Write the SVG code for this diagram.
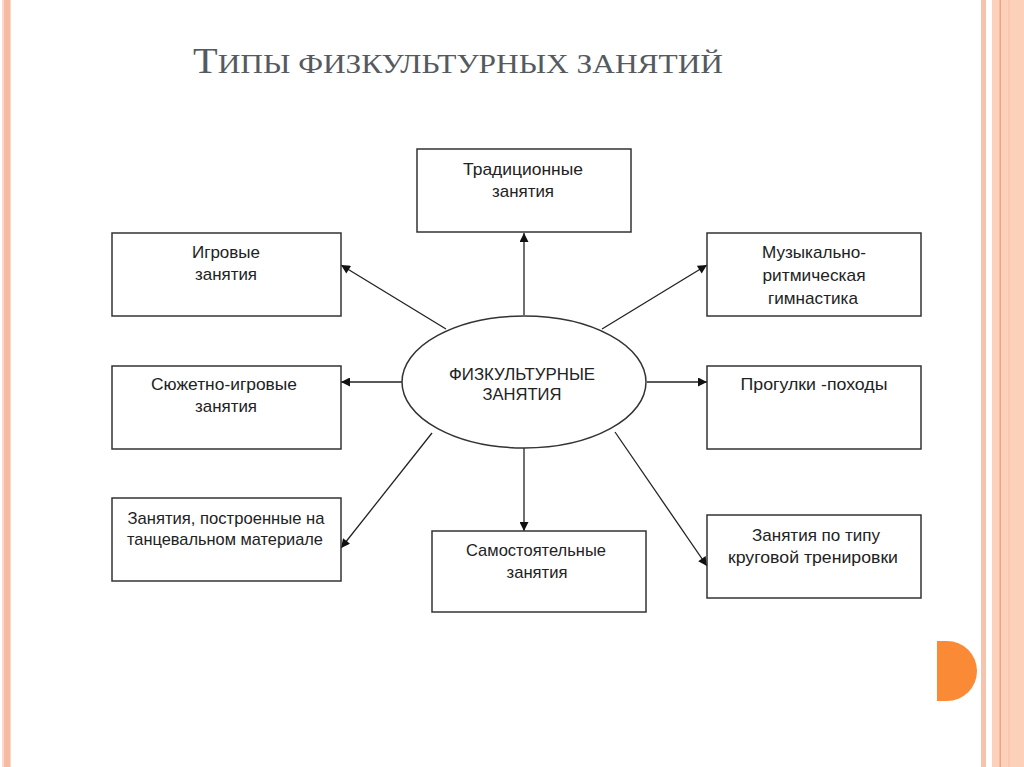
<svg xmlns="http://www.w3.org/2000/svg" width="1024" height="767" viewBox="0 0 1024 767">
<defs>
<style>
.box{fill:#fff;stroke:#333;stroke-width:1.5}
.t{font-family:"Liberation Sans",Arial,sans-serif;font-size:17px;fill:#222;text-anchor:middle}
.et{font-family:"Liberation Sans",Arial,sans-serif;font-size:16px;fill:#222;text-anchor:middle}
.c{stroke:#222;stroke-width:1.3;fill:none;marker-end:url(#ah)}
</style>
<marker id="ah" viewBox="0 0 10 10" refX="10" refY="5" markerWidth="10" markerHeight="9" markerUnits="userSpaceOnUse" orient="auto">
<path d="M0,0 L10,5 L0,10 z" fill="#111"/>
</marker>
</defs>
<rect width="1024" height="767" fill="#fff"/>
<!-- borders -->
<rect x="2" y="0" width="9" height="767" fill="#fbd9c8"/>
<rect x="4" y="0" width="6" height="767" fill="#f5bca3"/>
<rect x="981" y="0" width="5" height="767" fill="#f6c4ad"/>
<rect x="992" y="0" width="32" height="767" fill="#fdd0ba"/>
<rect x="999.5" y="0" width="1.5" height="767" fill="#e9a687"/>
<rect x="1008.5" y="0" width="1" height="767" fill="#f6bfa5"/>
<path d="M937,641 H947 A30,30 0 0 1 947,701 H937 Z" fill="#fb8a37"/>
<!-- title -->
<text x="193" y="73" textLength="530" lengthAdjust="spacingAndGlyphs" font-family="'Liberation Serif','Times New Roman',serif" fill="#555a60"><tspan font-size="36">Т</tspan><tspan font-size="28">ИПЫ ФИЗКУЛЬТУРНЫХ ЗАНЯТИЙ</tspan></text>
<!-- connectors -->
<g id="connectors">
<line class="c" x1="524" y1="315" x2="524" y2="233"/>
<line class="c" x1="446" y1="329" x2="341" y2="265"/>
<line class="c" x1="602" y1="329" x2="707" y2="265"/>
<line class="c" x1="402" y1="382" x2="341" y2="382"/>
<line class="c" x1="647" y1="382" x2="707" y2="382"/>
<line class="c" x1="432" y1="433" x2="341" y2="548"/>
<line class="c" x1="524" y1="448" x2="524" y2="531"/>
<line class="c" x1="615" y1="432" x2="707" y2="566"/>
</g>
<g id="center">
<ellipse cx="524" cy="382" rx="122" ry="66" fill="#fff" stroke="#333" stroke-width="1.5"/>
<text class="et" x="522" y="380" textLength="146" lengthAdjust="spacingAndGlyphs">ФИЗКУЛЬТУРНЫЕ</text>
<text class="et" x="522" y="400" textLength="79" lengthAdjust="spacingAndGlyphs">ЗАНЯТИЯ</text>
</g>
<g id="n-trad">
<rect class="box" x="417" y="149" width="214" height="83"/>
<text class="t" x="523" y="175" textLength="120" lengthAdjust="spacingAndGlyphs">Традиционные</text>
<text class="t" x="523" y="197" textLength="62" lengthAdjust="spacingAndGlyphs">занятия</text>
</g>
<g id="n-igr">
<rect class="box" x="112" y="233" width="229" height="83"/>
<text class="t" x="226" y="258" textLength="68" lengthAdjust="spacingAndGlyphs">Игровые</text>
<text class="t" x="226" y="280" textLength="62" lengthAdjust="spacingAndGlyphs">занятия</text>
</g>
<g id="n-muz">
<rect class="box" x="707" y="233" width="214" height="83"/>
<text class="t" x="814" y="258" textLength="104" lengthAdjust="spacingAndGlyphs">Музыкально-</text>
<text class="t" x="814" y="281" textLength="103" lengthAdjust="spacingAndGlyphs">ритмическая</text>
<text class="t" x="813" y="304" textLength="90" lengthAdjust="spacingAndGlyphs">гимнастика</text>
</g>
<g id="n-syu">
<rect class="box" x="112" y="366" width="229" height="83"/>
<text class="t" x="224" y="390" textLength="146" lengthAdjust="spacingAndGlyphs">Сюжетно-игровые</text>
<text class="t" x="226" y="412" textLength="62" lengthAdjust="spacingAndGlyphs">занятия</text>
</g>
<g id="n-prog">
<rect class="box" x="707" y="366" width="214" height="83"/>
<text class="t" x="814" y="390" textLength="147" lengthAdjust="spacingAndGlyphs">Прогулки -походы</text>
</g>
<g id="n-tanc">
<rect class="box" x="112" y="498" width="229" height="83"/>
<text class="t" x="226" y="524" textLength="197" lengthAdjust="spacingAndGlyphs">Занятия, построенные на</text>
<text class="t" x="225" y="545" textLength="196" lengthAdjust="spacingAndGlyphs">танцевальном материале</text>
</g>
<g id="n-sam">
<rect class="box" x="432" y="531" width="214" height="81"/>
<text class="t" x="536" y="556" textLength="140" lengthAdjust="spacingAndGlyphs">Самостоятельные</text>
<text class="t" x="537" y="578" textLength="61" lengthAdjust="spacingAndGlyphs">занятия</text>
</g>
<g id="n-krug">
<rect class="box" x="707" y="515" width="214" height="83"/>
<text class="t" x="816" y="541" textLength="128" lengthAdjust="spacingAndGlyphs">Занятия по типу</text>
<text class="t" x="813" y="563" textLength="170" lengthAdjust="spacingAndGlyphs">круговой тренировки</text>
</g>
</svg>
